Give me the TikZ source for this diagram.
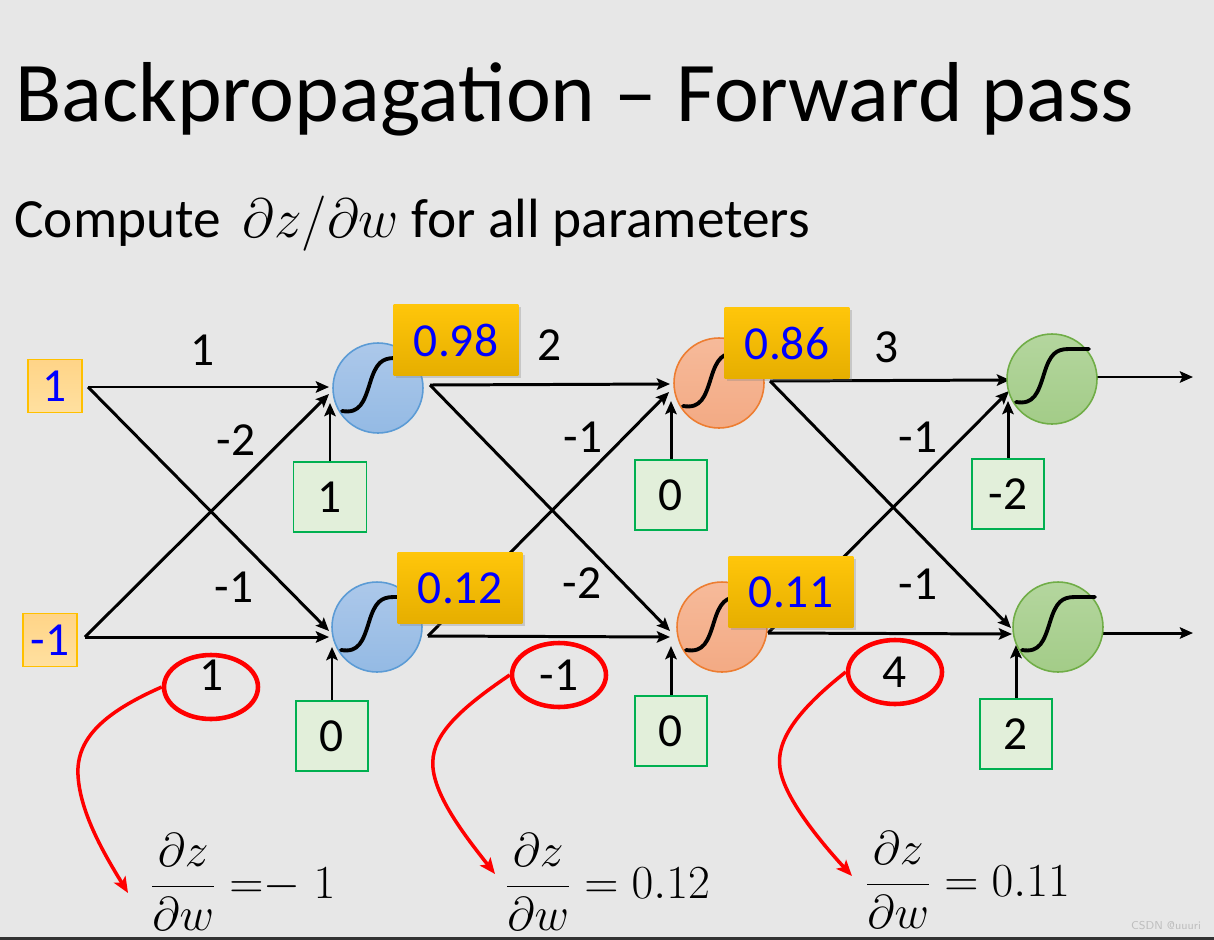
\RequirePackage{fix-cm}
\documentclass[tikz,border=0pt]{standalone}
\usepackage{amsmath}
\usepackage{fontspec}
\setmainfont{Carlito}
\usetikzlibrary{arrows.meta,shapes.geometric,shadows,calc}
\definecolor{bg}{RGB}{231,231,231}
\definecolor{inBorder}{RGB}{255,192,0}
\definecolor{inTop}{RGB}{255,212,135}
\definecolor{inBot}{RGB}{255,224,160}
\definecolor{biasBorder}{RGB}{0,176,80}
\definecolor{biasFill}{RGB}{226,239,218}
\definecolor{goldTop}{RGB}{255,198,10}
\definecolor{goldBot}{RGB}{230,174,0}
\definecolor{blueB}{RGB}{91,155,213}
\definecolor{blueTop}{RGB}{172,200,234}
\definecolor{blueBot}{RGB}{148,186,228}
\definecolor{orB}{RGB}{237,125,49}
\definecolor{orTop}{RGB}{246,186,154}
\definecolor{orBot}{RGB}{243,170,132}
\definecolor{grB}{RGB}{112,173,71}
\definecolor{grTop}{RGB}{180,214,158}
\definecolor{grBot}{RGB}{163,204,136}
\definecolor{redc}{RGB}{255,0,0}
\definecolor{wm}{RGB}{190,190,190}
\newcommand\numf{\fontsize{27}{32}\selectfont}
\begin{document}
\begin{tikzpicture}[x=0.02cm,y=-0.02cm,
  inbox/.style={draw=inBorder,line width=1.1pt,top color=inTop,bottom color=inBot,
    minimum width=1.07cm,minimum height=1.06cm,inner sep=0pt,text=blue,font=\numf},
  biasbox/.style={draw=biasBorder,line width=1.1pt,fill=biasFill,
    minimum width=1.43cm,minimum height=1.4cm,inner sep=0pt,font=\numf},
  goldbox/.style={top color=goldTop,bottom color=goldBot,
    minimum width=2.5cm,minimum height=1.42cm,inner sep=0pt,text=blue,font=\numf,
    drop shadow={shadow xshift=1.5pt,shadow yshift=-1.5pt,opacity=0.3}},
  neuron/.style={circle,line width=0.9pt,minimum size=1.8cm,inner sep=0pt},
  bluen/.style={neuron,draw=blueB,top color=blueTop,bottom color=blueBot},
  orn/.style={neuron,draw=orB,top color=orTop,bottom color=orBot},
  grn/.style={neuron,draw=grB,top color=grTop,bottom color=grBot},
  arr/.style={line width=1.7pt,-{Stealth[length=7.5pt,width=6.5pt,inset=1.5pt]}},
  sig/.style={line width=2.2pt,line cap=round},
  wlab/.style={font=\numf,inner sep=0pt},
  redell/.style={ellipse,draw=redc,line width=2.6pt,minimum width=1.88cm,minimum height=1.28cm,inner sep=0pt},
  redarr/.style={draw=redc,line width=2pt,-{Stealth[length=9pt,width=7.5pt,inset=2pt]}},
  formula/.style={anchor=west,inner sep=0pt,font=\fontsize{27}{32}\selectfont}
]
\useasboundingbox (0,0) rectangle (1214,940);
\fill[bg] (0,0) rectangle (1214,940);
\fill[black!80] (0,937) rectangle (1214,940);

% titles
\node[anchor=base west,inner sep=0pt,font=\fontsize{48.4}{56}\selectfont] (title) at (15,121) {Backpropagation -- Forward pass};
\node[anchor=base west,inner sep=0pt,font=\fontsize{31.5}{38}\selectfont] (subtitle) at (14,237) {Compute\, $\partial z/\partial w$ for all parameters};

% coordinates for connector ends
\coordinate (in1o) at (88,387);  \coordinate (in2o) at (85,637);
\coordinate (h1a) at (329,387);  \coordinate (h1b) at (329,394); \coordinate (h1c) at (330,403);
\coordinate (h2b) at (329,631);  \coordinate (h2a) at (329,637); \coordinate (h2c) at (332,647);
\coordinate (h1o) at (430,385);  \coordinate (h2o) at (428,636);
\coordinate (g1a) at (670,384);  \coordinate (g1b) at (669,392); \coordinate (g1c) at (671,401);
\coordinate (g2b) at (670,631);  \coordinate (g2a) at (670,637); \coordinate (g2c) at (671,646);
\coordinate (g1o) at (770,381);  \coordinate (g2o) at (768,633);
\coordinate (k1a) at (1010,380); \coordinate (k1b) at (1009,391); \coordinate (k1c) at (1008,401);
\coordinate (k2b) at (1011,628); \coordinate (k2a) at (1012,634); \coordinate (k2c) at (1016,645);
\coordinate (k1o) at (1097,377); \coordinate (k2o) at (1103,633);
\coordinate (out1) at (1193,377); \coordinate (out2) at (1193,633);

% input boxes
\node[inbox] (in1) at (55,386) {1};
\node[inbox] (in2) at (50,640) {-1};

% bias boxes
\node[biasbox,minimum width=1.46cm] (b1) at (330,497) {1};
\node[biasbox] (b2) at (332,736) {0};
\node[biasbox] (c1) at (671,495) {0};
\node[biasbox] (c2) at (671,731) {0};
\node[biasbox] (d1) at (1008,494) {-2};
\node[biasbox] (d2) at (1016,734) {2};

% connectors layer 1
\draw[arr] (in1o) -- (h1a);
\draw[arr] (in1o) -- (h2b);
\draw[arr] (in2o) -- (h1b);
\draw[arr] (in2o) -- (h2a);
\draw[arr] (b1.north) -- (h1c);
\draw[arr] (b2.north) -- (h2c);
% layer 2
\draw[arr] (h1o) -- (g1a);
\draw[arr] (h1o) -- (g2b);
\draw[arr] (h2o) -- (g1b);
\draw[arr] (h2o) -- (g2a);
\draw[arr] (c1.north) -- (g1c);
\draw[arr] (c2.north) -- (g2c);
% layer 3
\draw[arr] (g1o) -- (k1a);
\draw[arr] (g1o) -- (k2b);
\draw[arr] (g2o) -- (k1b);
\draw[arr] (g2o) -- (k2a);
\draw[arr] (d1.north) -- (k1c);
\draw[arr] (d2.north) -- (k2c);
\draw[arr] (k1o) -- (out1);
\draw[arr] (k2o) -- (out2);

% neurons
\node[bluen] (h1) at (378,388) {};
\node[bluen] (h2) at (377,627) {};
\node[orn] (g1) at (719,383) {};
\node[orn] (g2) at (722,627) {};
\node[grn] (k1) at (1052,379) {};
\node[grn] (k2) at (1058,627) {};
\foreach \n in {h1,h2,g1,g2,k1,k2}{
  \begin{scope}[shift={(\n.center)}]
    \draw[sig] (-36,23) .. controls (-18,26) and (-14,14) .. (-8,-5)
      .. controls (-2,-25) and (4,-30) .. (17,-30) -- (37,-30);
  \end{scope}
}

% output value boxes
\node[goldbox] (o1) at (456,340) {0.98};
\node[goldbox] (o2) at (460,588) {0.12};
\node[goldbox] (p1) at (787,343) {0.86};
\node[goldbox] (p2) at (791,592) {0.11};

% weight labels
\node[wlab] (w1) at (203,350) {1};
\node[wlab] (w2) at (236,440) {-2};
\node[wlab] (w3) at (234,587) {-1};
\node[wlab] (w4) at (212,675) {1};
\node[wlab] (w5) at (550,345) {2};
\node[wlab] (w6) at (583,437) {-1};
\node[wlab] (w7) at (582,583) {-2};
\node[wlab] (w8) at (559,675) {-1};
\node[wlab] (w9) at (887,347) {3};
\node[wlab] (w10) at (918,437) {-1};
\node[wlab] (w11) at (918,584) {-1};
\node[wlab] (w12) at (895,672) {4};

% red ellipses
\node[redell] (e1) at (211,687) {};
\node[redell] (e2) at (559,675) {};
\node[redell] (e3) at (895,672) {};

% formulas
\node[formula] (F1) at (150,882) {$\dfrac{\partial z}{\partial w}\;{=}{-}\;1$};
\node[formula] (F2) at (505,882) {$\dfrac{\partial z}{\partial w}=0.12$};
\node[formula] (F3) at (865,880) {$\dfrac{\partial z}{\partial w}=0.11$};
\coordinate (f1) at (128,893);
\coordinate (f2) at (495,874);
\coordinate (f3) at (852,876);

% red curved arrows
\draw[redarr] (e1.west) .. controls (105,712) and (76,738) .. (78,775)
  .. controls (80,815) and (108,860) .. (f1);
\draw[redarr] (e2.west) .. controls (455,712) and (430,738) .. (433,768)
  .. controls (436,800) and (470,842) .. (f2);
\draw[redarr] (e3.west) .. controls (795,712) and (776,742) .. (780,768)
  .. controls (784,800) and (828,850) .. (f3);

% watermark
\node[inner sep=0pt,font=\sffamily\fontsize{6.5}{7}\selectfont,text=wm] (wmark) at (1166,926) {CSDN @uuuri};
\end{tikzpicture}
\end{document}
